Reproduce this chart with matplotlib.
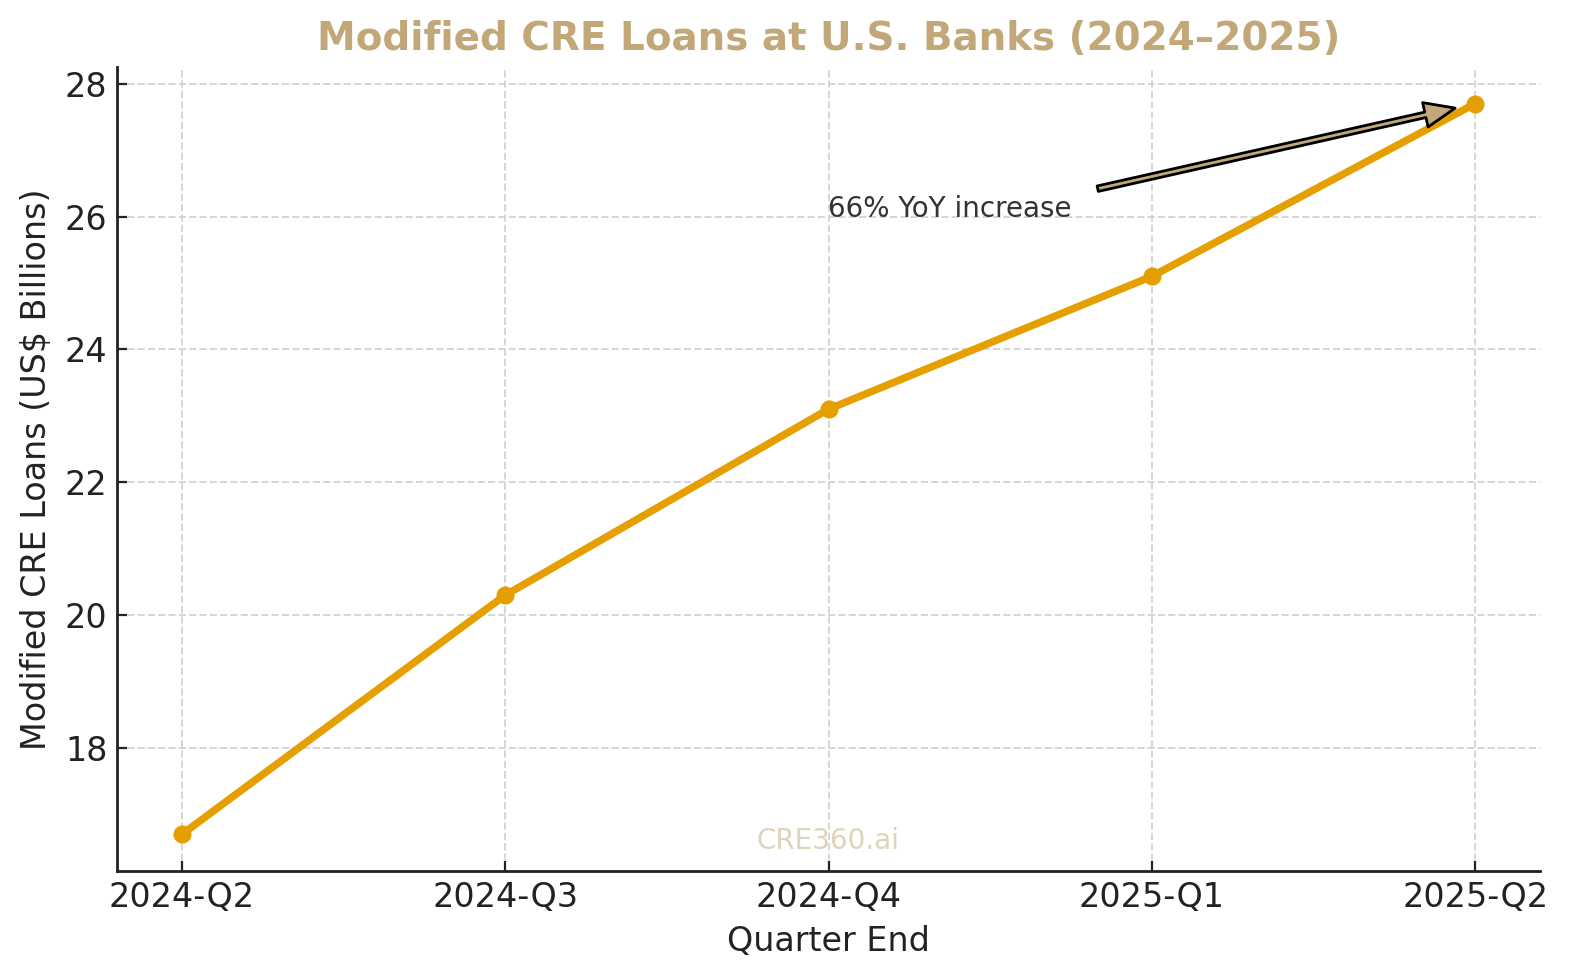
import matplotlib
matplotlib.use("Agg")
import matplotlib.pyplot as plt

quarters = ["2024-Q2", "2024-Q3", "2024-Q4", "2025-Q1", "2025-Q2"]
modified_loans = [16.7, 20.3, 23.1, 25.1, 27.7]

gold = "#C2A878"
orange = "#E69F00"

fig, ax = plt.subplots(figsize=(7.855, 4.9), dpi=200)
fig.subplots_adjust(left=117 / 1571, right=1540 / 1571, bottom=109 / 980, top=913 / 980)

x = list(range(len(quarters)))
ax.plot(x, modified_loans, color=orange, linewidth=2.7, marker="o", markersize=5.5)

ax.set_xticks(x)
ax.set_xticklabels(quarters)
ax.tick_params(labelsize=12, colors="#222222", direction="in")
ax.set_xlabel("Quarter End", fontsize=12, color="#222222")
ax.set_ylabel("Modified CRE Loans (US$ Billions)", fontsize=12, color="#222222")
ax.set_title("Modified CRE Loans at U.S. Banks (2024\u20132025)", fontsize=14,
             fontweight="bold", color=gold)

ax.grid(True, linestyle="--", color="#cccccc", alpha=0.8, linewidth=0.7)
ax.spines["top"].set_visible(False)
ax.spines["right"].set_visible(False)
for s in ("left", "bottom"):
    ax.spines[s].set_color("#222222")
    ax.spines[s].set_linewidth(1.0)

ax.annotate("66% YoY increase", xy=(4, modified_loans[-1]), xytext=(2, 26),
            fontsize=10, color="#333333",
            arrowprops=dict(facecolor=gold, edgecolor="black", shrink=0.05,
                            width=2, headwidth=9, headlength=11, linewidth=1))

ax.text(0.5, 0.02, "CRE360.ai", transform=ax.transAxes, ha="center", va="bottom",
        fontsize=10, color=gold, alpha=0.5)

fig.savefig("out.png", dpi=200)
